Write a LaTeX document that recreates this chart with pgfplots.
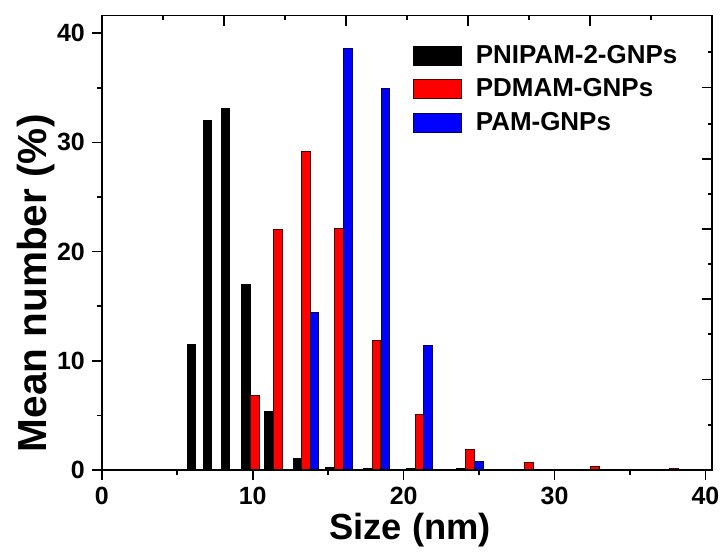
\documentclass[border=0pt]{standalone}
\usepackage{fontspec}
\setmainfont{Liberation Sans}
\usepackage{pgfplots}
\pgfplotsset{compat=1.18}

% size distributions (bin centre in nm, number %)
\pgfplotstableread{
x y
5.95 11.5
7.00 32.0
8.20 33.1
9.57 16.95
11.10 5.37
12.97 1.03
15.10 0.27
17.60 0.15
20.50 0.10
23.80 0.10
}\pnipam
\pgfplotstableread{
x y
10.14 6.8
11.70 22.05
13.55 29.15
15.70 22.1
18.20 11.9
21.07 5.1
24.40 1.92
28.30 0.7
32.70 0.33
37.90 0.1
}\pdmam
\pgfplotstableread{
x y
14.10 14.4
16.30 38.6
18.80 34.9
21.60 11.4
25.00 0.8
}\pam

\begin{document}
\begin{tikzpicture}
\pgfplotsset{
  frame/.style={
    width=305.75pt, height=227.65pt, scale only axis,
    at={(0,0)}, anchor=south west,
    axis line style={line width=0.8pt},
    major tick style={line width=0.8pt, black},
    minor tick style={line width=0.8pt, black},
  }
}
\begin{axis}[
  frame,
  xmin=0, xmax=40.44, ymin=0, ymax=41.6,
  xtick={0,10,20,30,40}, minor xtick={5,15,25,35},
  ytick={0,10,20,30,40}, minor ytick={5,15,25,35},
  xtick pos=left, ytick pos=left, tick align=outside,
  major tick length=5pt, minor tick length=2.5pt,
  /pgf/number format/assume math mode=true,
  tick label style={font=\bfseries\fontsize{12.5}{14}\selectfont},
  xlabel={Size (nm)}, ylabel={Mean number (\%)},
  xlabel style={font=\bfseries\fontsize{18.2}{21}\selectfont,
    at={(axis description cs:0.505,-0.132)}, anchor=center},
  ylabel style={font=\bfseries\fontsize{20.3}{23}\selectfont,
    at={(axis description cs:-0.108,0.411)}, anchor=center},
  ybar, bar shift=0pt, bar width=0.58,
  legend image code/.code={\draw[#1] (0pt,-4.75pt) rectangle (24pt,4.75pt);},
  legend cell align=left,
  legend style={at={(axis description cs:0.5093,0.945)}, anchor=north west,
    draw=none, fill=none, inner sep=0pt, row sep=2.25pt,
    font=\bfseries\fontsize{13}{15}\selectfont,
    /tikz/every odd column/.append style={column sep=5pt}},
]
\addplot[fill=black, draw=black, line width=0.5pt] table {\pnipam};
\addplot[fill=red, draw=black!70!red, line width=0.5pt] table {\pdmam};
\addplot[fill=blue, draw=black!70!blue, line width=0.5pt] table {\pam};
\legend{PNIPAM-2-GNPs, PDMAM-GNPs, PAM-GNPs}
\end{axis}
% ticks on the top and right edges
\begin{axis}[
  frame,
  xmin=0, xmax=10, ymin=0, ymax=41.6,
  xtick={2,4,6,8}, minor xtick={1,3,5,7,9},
  ytick={8.29,15.64,22.07,28.48,35.04},
  minor ytick={4.11,12.43,18.86,25.27,31.69,38.27},
  xtick pos=right, ytick pos=right, tick align=inside,
  major tick length=5pt, minor tick length=2.2pt,
  xticklabels={}, yticklabels={},
]
\end{axis}
\path (-51pt,-42pt) rectangle (312pt,235.5pt);
\end{tikzpicture}
\end{document}
